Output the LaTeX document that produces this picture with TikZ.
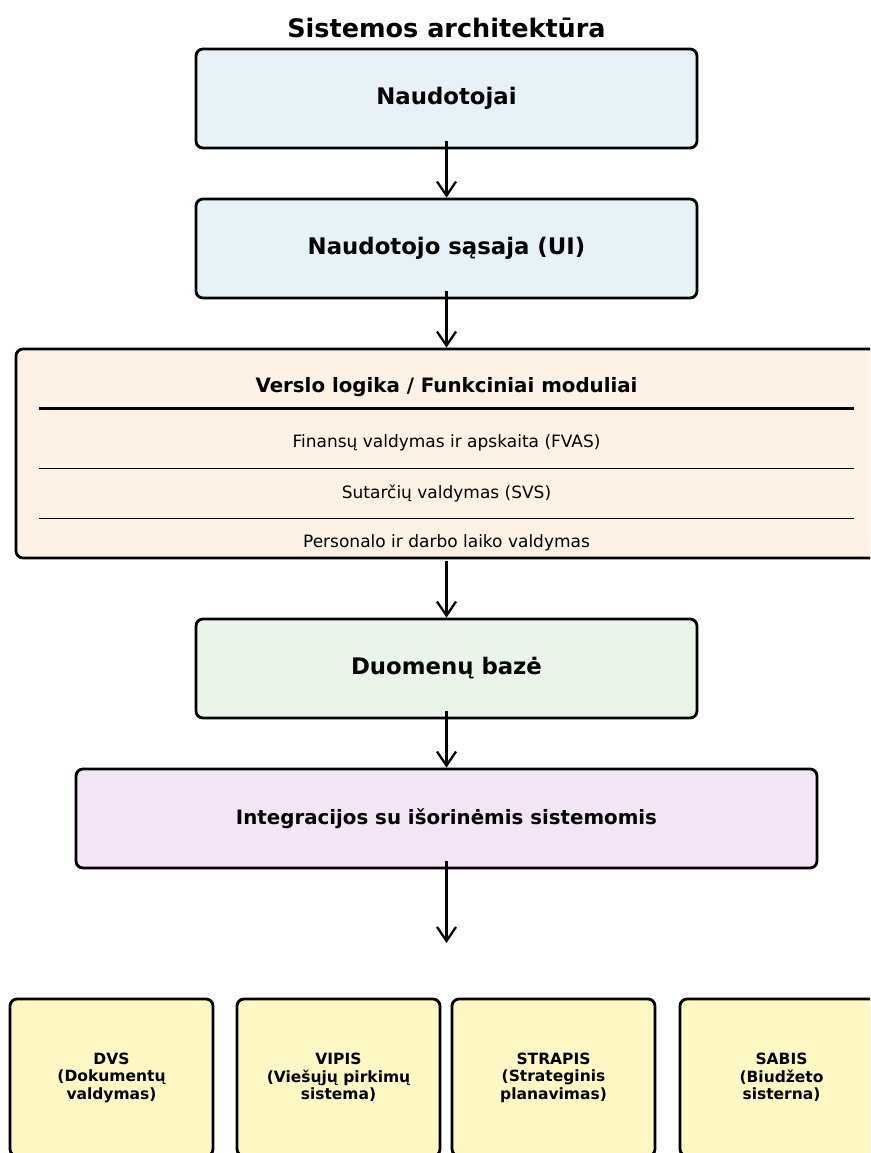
\documentclass[tikz,border=0pt]{standalone}
\usepackage{fontspec}
\setmainfont{DejaVu Sans}
\usetikzlibrary{arrows.meta}
\definecolor{usrblue}{HTML}{E6F2F8}
\definecolor{logicorange}{HTML}{FEF2E4}
\definecolor{dbgreen}{HTML}{E8F5E8}
\definecolor{intpurple}{HTML}{F3E5F5}
\definecolor{extyellow}{HTML}{FFF8C4}

\begin{document}
\begin{tikzpicture}[x=1pt, y=-1pt,
	box/.style={draw, line width=2.8pt, rounded corners=7pt, inner sep=0pt, align=center},
	flow/.style={line width=2.3pt, -{Straight Barb[length=14pt, width=19pt, line width=2.3pt]}},
	bigtext/.style={font=\bfseries\fontsize{22.8}{27}\selectfont},
	midtext/.style={font=\bfseries\fontsize{19.8}{23}\selectfont},
	modtext/.style={font=\fontsize{17}{20}\selectfont},
	exttext/.style={font=\bfseries\fontsize{15.5}{17.5}\selectfont}]
	\clip (0, 0) rectangle (870, 1153);

	\node [font=\bfseries\fontsize{25.5}{30}\selectfont] (title) at (446.5, 28) {Sistemos architektūra};

	\node [box, bigtext, fill=usrblue, minimum width=501pt, minimum height=99pt] (users) at (446.5, 98.5) {Naudotojai};
	\node [box, bigtext, fill=usrblue, minimum width=501pt, minimum height=99pt] (ui) at (446.5, 248.5) {Naudotojo sąsaja (UI)};

	\node [box, fill=logicorange, minimum width=861pt, minimum height=209pt] (logic) at (446.5, 453.5) {};
	\node [midtext] (logictitle) at (446.5, 387) {Verslo logika / Funkciniai moduliai};
	\draw [line width=2.8pt] (39, 408.5) -- (854, 408.5);
	\node [modtext] (fvas) at (446.5, 443) {Finansų valdymas ir apskaita (FVAS)};
	\draw [line width=1.6pt] (39, 468.5) -- (854, 468.5);
	\node [modtext] (svs) at (446.5, 493) {Sutarčių valdymas (SVS)};
	\draw [line width=1.6pt] (39, 518.5) -- (854, 518.5);
	\node [modtext] (hr) at (446.5, 543) {Personalo ir darbo laiko valdymas};

	\node [box, bigtext, fill=dbgreen, minimum width=501pt, minimum height=99pt] (db) at (446.5, 668.5) {Duomenų bazė};
	\node [box, midtext, fill=intpurple, minimum width=741pt, minimum height=99pt] (integ) at (446.5, 818.5) {Integracijos su išorinėmis sistemomis};
	\coordinate (extin) at (446.5, 943);

	\node [box, exttext, fill=extyellow, minimum width=203pt, minimum height=157pt] (dvs) at (111.5, 1077.5) {DVS\\(Dokumentų\\valdymas)};
	\node [box, exttext, fill=extyellow, minimum width=203pt, minimum height=157pt] (vipis) at (338.5, 1077.5) {VIPIS\\(Viešųjų pirkimų\\sistema)};
	\node [box, exttext, fill=extyellow, minimum width=203pt, minimum height=157pt] (strapis) at (553.5, 1077.5) {STRAPIS\\(Strateginis\\planavimas)};
	\node [box, exttext, fill=extyellow, minimum width=203pt, minimum height=157pt] (sabis) at (781.5, 1077.5) {SABIS\\(Biudžeto\\sisterna)};

	\draw [flow] ([yshift=8pt]users.south) -- (ui.north);
	\draw [flow] ([yshift=8pt]ui.south) -- (logic.north);
	\draw [flow] ([yshift=-2pt]logic.south) -- (db.north);
	\draw [flow] ([yshift=8pt]db.south) -- (integ.north);
	\draw [flow] ([yshift=8pt]integ.south) -- (extin);
\end{tikzpicture}
\end{document}
